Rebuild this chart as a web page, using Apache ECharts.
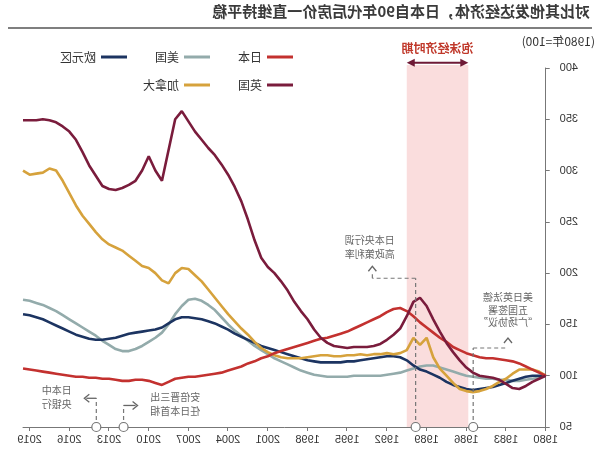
<!DOCTYPE html>
<html><head><meta charset="utf-8">
<script src="https://cdn.jsdelivr.net/npm/echarts@6/dist/echarts.min.js"></script>
<style>html,body{margin:0;padding:0;background:#fff}#c{width:600px;height:459px;transform:scaleX(-1);}</style>
</head><body><div id="c"></div>
<script>
const years = [1980,1980.5,1981,1981.5,1982,1982.5,1983,1983.5,1984,1984.5,
1985,1985.5,1986,1986.5,1987,1987.5,1988,1988.5,1989,1989.5,
1990,1990.5,1991,1991.5,1992,1992.5,1993,1993.5,1994,1994.5,
1995,1995.5,1996,1996.5,1997,1997.5,1998,1998.5,1999,1999.5,
2000,2000.5,2001,2001.5,2002,2002.5,2003,2003.5,2004,2004.5,
2005,2005.5,2006,2006.5,2007,2007.5,2008,2008.5,2009,2009.5,
2010,2010.5,2011,2011.5,2012,2012.5,2013,2013.5,2014,2014.5,
2015,2015.5,2016,2016.5,2017,2017.5,2018,2018.5,2019,2019.5];
const japan = [100,103,106,109,112,114,115,116,117,117,
118,120,122,125,128,133,137,142,147,152,
158,163,166,165,162,158,155,152,149,146,
143,141,139,137,136,134,132,130,128,126,
124,122,119,117,114,112,109,107,105,103,
102,101,100,99,99,98,97,94,91,93,
95,96,96,95,95,96,97,97,98,98,
99,99,100,101,102,103,104,105,106,107];
const uk = [100,97,94,90,87,88,92,96,98,99,
100,103,108,115,123,132,143,155,168,176,
172,158,146,140,135,131,129,128,128,128,
127,128,129,132,137,145,155,163,172,183,
192,200,206,215,232,252,270,284,296,306,
315,322,330,338,348,358,350,320,290,300,
314,300,290,286,283,281,282,285,295,305,
318,330,338,343,347,349,350,349,349,349];
const canada = [100,104,106,106,106,102,97,94,90,87,
85,84,85,87,93,100,107,118,137,130,
137,125,122,121,122,121,121,120,121,120,
120,119,119,120,120,119,118,117,117,117,
118,120,123,127,133,140,146,153,160,168,
176,184,192,198,204,205,200,190,193,200,
205,207,212,217,222,225,228,233,240,248,
256,266,278,290,300,302,298,297,296,300];
const usa = [100,98,97,96,95,95,96,96,97,97,
98,99,100,102,104,106,108,110,110,109,
107,105,103,102,101,100,100,100,100,100,
99,99,99,99,100,101,103,105,108,111,
114,117,121,125,129,134,139,144,150,157,
164,169,173,175,174,168,160,150,142,137,
133,129,126,124,124,126,130,134,139,143,
147,151,155,159,163,166,169,171,173,174];
const euro = [100,100,100,99,97,95,93,91,89,88,
87,86,87,89,91,94,98,101,104,106,
110,115,118,119,119,118,117,116,115,114,
114,113,113,113,113,114,115,117,119,121,
123,125,127,129,132,135,138,141,145,148,
151,153,155,156,157,157,155,151,147,145,
144,143,142,141,139,137,136,135,135,136,
138,140,143,146,149,152,155,157,159,160];
const bubble = [1985.85, 1990.5];
const events = [1985.48, 1989.83, 2011.9, 2013.96];

const FONT = '"Noto Sans CJK SC", "Liberation Sans", sans-serif';
const chart = echarts.init(document.getElementById('c'), null, {renderer:'canvas'});
const pair = arr => years.map((y,i)=>[y, arr[i]]);
const mk = (name, arr, color) => ({name, type:'line', data:pair(arr), symbol:'none', smooth:false,
  lineStyle:{color, width:2.6}, itemStyle:{color}, z:3});
chart.setOption({
  animation:false,
  grid:{left:54.3, right:23, top:68, bottom:32},
  legend:[
    {data:['日本','美国','欧元区'], left:302, top:46, itemWidth:26, itemHeight:3, itemGap:28, icon:'rect',
     textStyle:{fontSize:12, color:'#333', fontFamily:FONT}},
    {data:['英国','加拿大'], left:302, top:74, itemWidth:26, itemHeight:3, itemGap:28, icon:'rect',
     textStyle:{fontSize:12, color:'#333', fontFamily:FONT}}
  ],
  xAxis:{type:'value', min:1980, max:2019.5, interval:3,
    axisLine:{lineStyle:{color:'#777', width:1}}, axisTick:{length:4, lineStyle:{color:'#777'}},
    axisLabel:{color:'#333', fontSize:11, margin:7, showMaxLabel:false, formatter:v=>String(v), fontFamily:'"Liberation Sans", sans-serif'},
    splitLine:{show:false}},
  yAxis:{type:'value', min:50, max:400, interval:50,
    axisLine:{show:true, lineStyle:{color:'#777', width:1}}, axisTick:{show:true, length:4, lineStyle:{color:'#777'}},
    axisLabel:{color:'#333', fontSize:11, margin:14, fontFamily:'"Liberation Sans", sans-serif'},
    splitLine:{show:false}},
  series:[
    mk('美国', usa, '#93abab'),
    mk('欧元区', euro, '#1c3461'),
    mk('加拿大', canada, '#d6a23c'),
    mk('日本', japan, '#c3312f'),
    mk('英国', uk, '#7a1c3c')
  ]
});

function P(x,y){return chart.convertToPixel({gridIndex:0},[x,y]);}
const g = [];
const yAxisPx = P(1980,50)[1];
const bx0 = P(bubble[0],50)[0], bx1 = P(bubble[1],50)[0];
const bTop = P(1980,403)[1];
g.push({type:'rect', z:-1, shape:{x:bx0, y:bTop, width:bx1-bx0, height:yAxisPx-bTop}, style:{fill:'#fadddd'}});
const ay = P(1980,405)[1];
const ac = '#6e1a36';
g.push({type:'line', z:10, shape:{x1:bx0+5, y1:ay, x2:bx1-5, y2:ay}, style:{stroke:ac, lineWidth:2}});
g.push({type:'polygon', z:10, shape:{points:[[bx0,ay],[bx0+8,ay-4],[bx0+8,ay+4]]}, style:{fill:ac}});
g.push({type:'polygon', z:10, shape:{points:[[bx1,ay],[bx1-8,ay-4],[bx1-8,ay+4]]}, style:{fill:ac}});
g.push({type:'text', z:10, x:(bx0+bx1)/2, y:P(1980,419)[1], style:{text:'泡沫经济时期', fill:'#c0392b', font:'bold 12px '+FONT, textAlign:'center', textVerticalAlign:'middle'}});
// title
g.push({type:'text', left:10, top:4, style:{text:'对比其他发达经济体，日本自90年代后房价一直维持平稳', fill:'#3a3a3a', font:'bold 15px '+FONT}});
g.push({type:'line', shape:{x1:8, y1:28, x2:592, y2:28}, style:{stroke:'#555', lineWidth:1.5}});
g.push({type:'text', left:5, top:35, style:{text:'(1980年=100)', fill:'#333', font:'12px '+FONT}});

const dash = {stroke:'#777', lineWidth:1.2, lineDash:[4,3]};
const aStyle = {stroke:'#666', lineWidth:1.3, fill:null};
function txt(lines, xv, yvals){
  lines.forEach((t,i)=>{const p=P(xv,yvals[i]);
    g.push({type:'text', z:10, x:p[0], y:p[1], style:{text:t, fill:'#666', font:'10px '+FONT, textAlign:'center', textVerticalAlign:'middle'}});});
}
function upArrow(x, yTipPx){
  g.push({type:'polyline', z:10, shape:{points:[[x-4,yTipPx+5],[x,yTipPx],[x+4,yTipPx+5]]}, style:aStyle});
}
// BOJ hike
{
  const ex = P(events[1],50)[0], hy = P(1980,195)[1], tx = P(1993.1,50)[0];
  g.push({type:'line', z:10, shape:{x1:ex, y1:yAxisPx, x2:ex, y2:hy}, style:dash});
  g.push({type:'line', z:10, shape:{x1:ex, y1:hy, x2:tx, y2:hy}, style:dash});
  g.push({type:'line', z:10, shape:{x1:tx, y1:hy, x2:tx, y2:hy-7}, style:dash});
  upArrow(tx, hy-12);
  txt(['日本央行调','高政策利率'], 1993.3, [232,218]);
}
// Plaza
{
  const ex = P(events[0],50)[0], hy = P(1980,127)[1], tx = P(1982.85,50)[0];
  g.push({type:'line', z:10, shape:{x1:ex, y1:yAxisPx, x2:ex, y2:hy}, style:dash});
  g.push({type:'line', z:10, shape:{x1:ex, y1:hy, x2:tx, y2:hy}, style:dash});
  upArrow(tx, hy-10);
  txt(['美日英法德','五国签署','“广场协议”'], 1982.85, [177,164,152]);
}
// BOJ governor
{
  const ex = P(events[3],50)[0], hy = P(1980,78)[1];
  g.push({type:'line', z:10, shape:{x1:ex, y1:yAxisPx, x2:ex, y2:hy}, style:dash});
  g.push({type:'line', z:10, shape:{x1:ex, y1:hy, x2:ex+10, y2:hy}, style:aStyle});
  g.push({type:'polyline', z:10, shape:{points:[[ex+7,hy-4],[ex+12,hy],[ex+7,hy+4]]}, style:aStyle});
  txt(['日本中','央银行'], 2016.95, [86,72]);
}
// Abe
{
  const ex = P(events[2],50)[0], hy = P(1980,71)[1];
  g.push({type:'line', z:10, shape:{x1:ex, y1:yAxisPx, x2:ex, y2:hy}, style:dash});
  g.push({type:'line', z:10, shape:{x1:ex, y1:hy, x2:ex-12, y2:hy}, style:aStyle});
  g.push({type:'polyline', z:10, shape:{points:[[ex-9,hy-4],[ex-14,hy],[ex-9,hy+4]]}, style:aStyle});
  txt(['安倍晋三出','任日本首相'], 2008.0, [79,65]);
}
events.forEach(e=>{const p=P(e,50);
  g.push({type:'circle', z:11, shape:{cx:p[0], cy:p[1], r:4.5}, style:{fill:'#fff', stroke:'#777', lineWidth:1.2}});});
chart.setOption({graphic:g});
</script></body></html>
